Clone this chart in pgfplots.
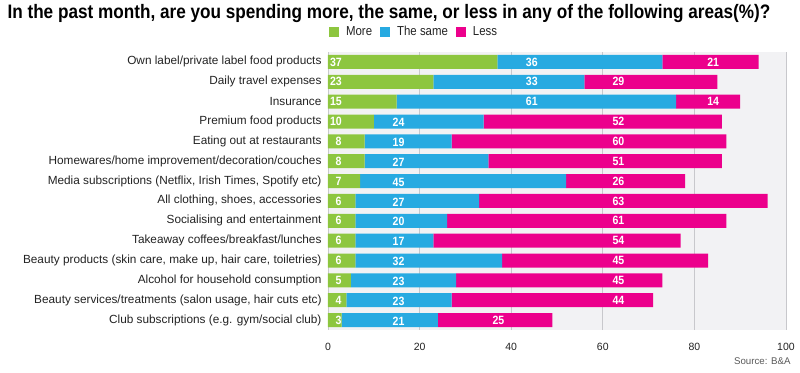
\documentclass[border=0pt]{standalone}
\usepackage{pgfplots}
\pgfplotsset{compat=1.18}
\usepackage{pgfplotstable}
\usepackage{fontspec}
\setmainfont{Liberation Sans}
\newfontfamily\narrow[FakeStretch=0.88]{Liberation Sans}
\definecolor{cMore}{RGB}{141,198,63}
\definecolor{cSame}{RGB}{39,170,225}
\definecolor{cLess}{RGB}{236,0,140}
\definecolor{bgc}{RGB}{242,242,244}
\definecolor{gridc}{RGB}{200,200,204}
\definecolor{txt}{RGB}{34,34,34}
\pgfplotstableread{
y more same less
0 37 36 21
1 23 33 29
2 15 61 14
3 10 24 52
4 8 19 60
5 8 27 51
6 7 45 26
7 6 27 63
8 6 20 61
9 6 17 54
10 6 32 45
11 5 23 45
12 4 23 44
13 3 21 25
}\datatable
\tikzset{vl/.style={font=\narrow\bfseries\fontsize{12}{13}\selectfont, text=white, inner sep=0pt}}
\begin{document}
\begin{tikzpicture}
\useasboundingbox (0,0) rectangle (800pt,372pt);
\node[anchor=west,font=\narrow\bfseries\fontsize{19.5}{22}\selectfont,text=black] at (4pt,358pt) {In the past month, are you spending more, the same, or less in any of the following areas(\%)?};
\node[anchor=east,font=\fontsize{9.7}{11}\selectfont,text=black!65] at (794pt,11pt) {Source: B\&A};
\begin{axis}[
  at={(328pt,42pt)}, anchor=south west, scale only axis,
  width=458pt, height=278pt,
  xbar stacked, bar width=14pt,
  xmin=0, xmax=100, ymin=-0.5, ymax=13.5, y dir=reverse,
  ytick={0,...,13},
  yticklabels={{Own label/private label food products},{Daily travel expenses},{Insurance},{Premium food products},{Eating out at restaurants},{Homewares/home improvement/decoration/couches},{Media subscriptions (Netflix, Irish Times, Spotify etc)},{All clothing, shoes, accessories},{Socialising and entertainment},{Takeaway coffees/breakfast/lunches},{Beauty products (skin care, make up, hair care, toiletries)},{Alcohol for household consumption},{Beauty services/treatments (salon usage, hair cuts etc)},{Club subscriptions (e.g. gym/social club)}},
  yticklabel style={font=\fontsize{11.8}{13}\selectfont, text=txt, xshift=-3pt},
  xtick={0,20,...,100},
  xticklabel style={font=\fontsize{10.5}{12}\selectfont, text=txt, yshift=-10pt},
  /pgf/number format/assume math mode=true,
  axis background/.style={fill=bgc},
  axis line style={draw=none},
  major tick style={draw=none},
  xmajorgrids, grid style={gridc, line width=0.7pt},
  legend columns=-1,
  legend style={at={(0.188,1.072)}, anchor=center, draw=none, fill=none,
    font=\narrow\fontsize{13}{15}\selectfont, text=txt,
    /tikz/every odd column/.append style={column sep=5pt},
    /tikz/every even column/.append style={column sep=6pt}},
  legend image code/.code={\fill[#1] (0pt,-5pt) rectangle (10pt,5pt);},
]
\addplot[fill=cMore, draw=none] table[x=more, y=y] {\datatable};
\addplot[fill=cSame, draw=none] table[x=same, y=y] {\datatable};
\addplot[fill=cLess, draw=none] table[x=less, y=y] {\datatable};
\legend{More, The same, Less}
\end{axis}
\begin{axis}[
  at={(328pt,42pt)}, anchor=south west, scale only axis,
  width=458pt, height=278pt,
  xmin=0, xmax=100, ymin=-0.5, ymax=13.5, y dir=reverse,
  hide axis, clip=false,
]
% green
\node[vl,anchor=west] at (axis cs:0.4,0) {37};
\node[vl,anchor=west] at (axis cs:0.4,1) {23};
\node[vl,anchor=west] at (axis cs:0.4,2) {15};
\node[vl,anchor=west] at (axis cs:0.4,3) {10};
\node[vl] at (axis cs:2.3,4) {8};
\node[vl] at (axis cs:2.3,5) {8};
\node[vl] at (axis cs:2.3,6) {7};
\node[vl] at (axis cs:2.3,7) {6};
\node[vl] at (axis cs:2.3,8) {6};
\node[vl] at (axis cs:2.3,9) {6};
\node[vl] at (axis cs:2.3,10) {6};
\node[vl] at (axis cs:2.3,11) {5};
\node[vl] at (axis cs:2.3,12) {4};
\node[vl] at (axis cs:2.3,13) {3};
% blue
\node[vl] at (axis cs:44.5,0) {36};
\node[vl] at (axis cs:44.5,1) {33};
\node[vl] at (axis cs:44.5,2) {61};
\node[vl] at (axis cs:15.4,3.05) {24};
\node[vl] at (axis cs:15.4,4.05) {19};
\node[vl] at (axis cs:15.4,5.05) {27};
\node[vl] at (axis cs:15.4,6.05) {45};
\node[vl] at (axis cs:15.4,7.05) {27};
\node[vl] at (axis cs:15.4,8.05) {20};
\node[vl] at (axis cs:15.4,9.05) {17};
\node[vl] at (axis cs:15.4,10.05) {32};
\node[vl] at (axis cs:15.4,11.05) {23};
\node[vl] at (axis cs:15.4,12.05) {23};
\node[vl] at (axis cs:15.4,13.05) {21};
% pink
\node[vl] at (axis cs:84.1,0) {21};
\node[vl] at (axis cs:63.4,1) {29};
\node[vl] at (axis cs:84.1,2) {14};
\node[vl] at (axis cs:63.4,3) {52};
\node[vl] at (axis cs:63.4,4) {60};
\node[vl] at (axis cs:63.4,5) {51};
\node[vl] at (axis cs:63.4,6) {26};
\node[vl] at (axis cs:63.4,7) {63};
\node[vl] at (axis cs:63.4,8) {61};
\node[vl] at (axis cs:63.4,9) {54};
\node[vl] at (axis cs:63.4,10) {45};
\node[vl] at (axis cs:63.4,11) {45};
\node[vl] at (axis cs:63.4,12) {44};
\node[vl] at (axis cs:37.2,13) {25};
\end{axis}
\end{tikzpicture}
\end{document}
